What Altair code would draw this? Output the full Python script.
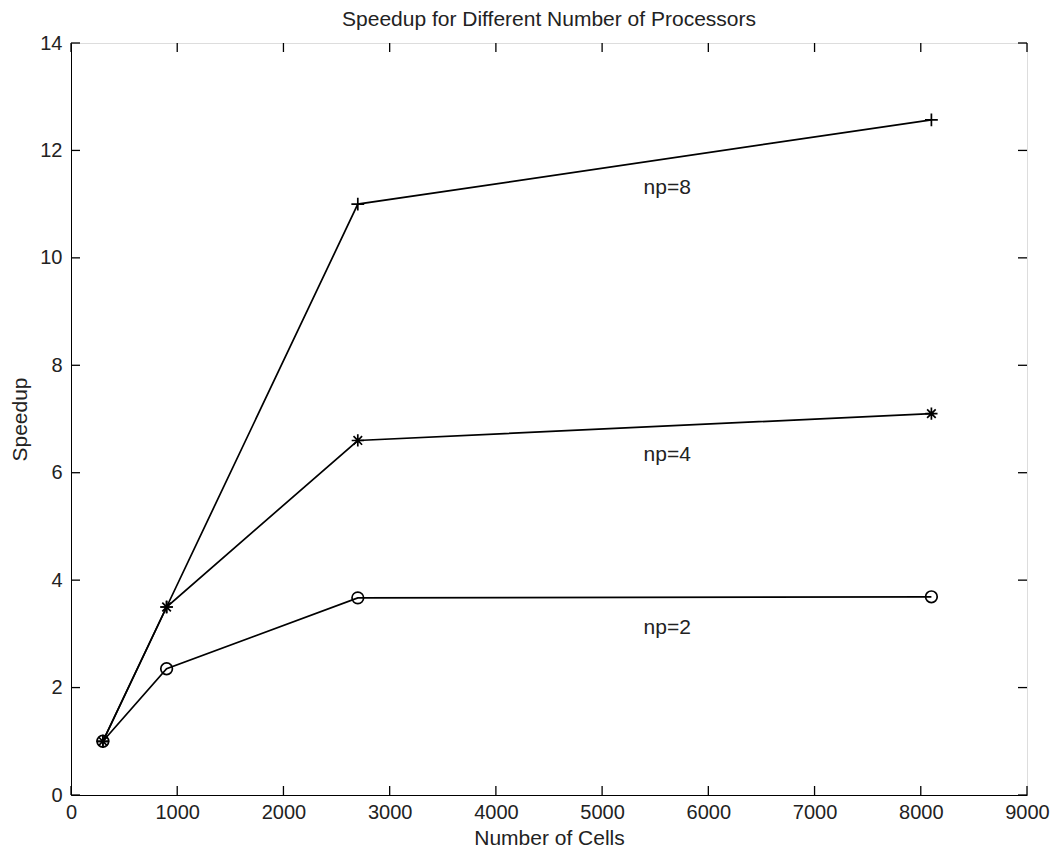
import altair as alt
import pandas as pd

# ---- data ----
cells = [300, 900, 2700, 8100]
speedup_np2 = [1.0, 2.35, 3.67, 3.69]
speedup_np4 = [1.0, 3.5, 6.6, 7.1]
speedup_np8 = [1.0, 3.5, 11.0, 12.57]
series_names = ["np=2", "np=4", "np=8"]

label_x = [5390, 5390, 5390]
label_y = [3.1, 6.33, 11.3]

x_ticks = [0, 1000, 2000, 3000, 4000, 5000, 6000, 7000, 8000, 9000]
y_ticks = [0, 2, 4, 6, 8, 10, 12, 14]

W, H = 956, 752
FONT = "Liberation Sans"
INK = "#222222"
TICK = 9

rows = []
for name, vals in zip(series_names, [speedup_np2, speedup_np4, speedup_np8]):
    for c, v in zip(cells, vals):
        rows.append({"series": name, "cells": c, "speedup": v})
df = pd.DataFrame(rows)

labels_df = pd.DataFrame({"text": series_names, "x": label_x, "y": label_y})
xt_df = pd.DataFrame({"t": x_ticks})
yt_df = pd.DataFrame({"t": y_ticks})

xscale = alt.Scale(domain=[0, 9000], nice=False, zero=False)
yscale = alt.Scale(domain=[0, 14], nice=False, zero=False)

x_axis = alt.Axis(values=x_ticks, grid=False, ticks=False, labelPadding=7,
                  labelFontSize=20, labelFont=FONT, labelColor=INK,
                  title="Number of Cells", titleFontSize=21, titleFont=FONT,
                  titleFontWeight="normal", titleColor=INK, titlePadding=5,
                  domainColor="black", labelFlush=False, format="d")
y_axis = alt.Axis(values=y_ticks, grid=False, ticks=False, labelPadding=9,
                  labelFontSize=20, labelFont=FONT, labelColor=INK,
                  title="Speedup", titleFontSize=21, titleFont=FONT,
                  titleFontWeight="normal", titleColor=INK, titlePadding=9,
                  domainColor="black", labelFlush=False, format="d")

lines = alt.Chart(df).mark_line(color="black", strokeWidth=1.7).encode(
    x=alt.X("cells:Q", scale=xscale, axis=x_axis),
    y=alt.Y("speedup:Q", scale=yscale, axis=y_axis),
    detail="series:N",
)

asterisk = "M-1,0L1,0M0,-1L0,1M-0.7,-0.7L0.7,0.7M-0.7,0.7L0.7,-0.7"
plus = "M-1,0L1,0M0,-1L0,1"

points = alt.Chart(df).mark_point(filled=False, color="black", strokeWidth=1.7, opacity=1).encode(
    x=alt.X("cells:Q", scale=xscale),
    y=alt.Y("speedup:Q", scale=yscale),
    shape=alt.Shape("series:N", scale=alt.Scale(domain=series_names, range=["circle", asterisk, plus]), legend=None),
    size=alt.Size("series:N", scale=alt.Scale(domain=series_names, range=[135, 165, 200]), legend=None),
)

texts = alt.Chart(labels_df).mark_text(align="left", baseline="middle", font=FONT,
                                       fontSize=21, color=INK).encode(
    x=alt.X("x:Q", scale=xscale),
    y=alt.Y("y:Q", scale=yscale),
    text="text:N",
)

bottom_ticks = alt.Chart(xt_df).mark_rule(color="black", strokeWidth=1.3).encode(
    x=alt.X("t:Q", scale=xscale), y=alt.value(H), y2=alt.value(H - TICK))
top_ticks = alt.Chart(xt_df).mark_rule(color="black", strokeWidth=1.3).encode(
    x=alt.X("t:Q", scale=xscale), y=alt.value(0), y2=alt.value(TICK))
left_ticks = alt.Chart(yt_df).mark_rule(color="black", strokeWidth=1.3).encode(
    y=alt.Y("t:Q", scale=yscale), x=alt.value(0), x2=alt.value(TICK))
right_ticks = alt.Chart(yt_df).mark_rule(color="black", strokeWidth=1.3).encode(
    y=alt.Y("t:Q", scale=yscale), x=alt.value(W), x2=alt.value(W - TICK))

chart = alt.layer(
    lines, points, texts, bottom_ticks, top_ticks, left_ticks, right_ticks
).properties(
    width=W, height=H,
    title=alt.TitleParams("Speedup for Different Number of Processors", fontSize=21,
                          font=FONT, fontWeight="normal", color=INK, anchor="middle", offset=3),
    autosize=alt.AutoSizeParams(type="none"),
    padding={"left": 63, "top": 35, "right": 28, "bottom": 58},
).configure_view(stroke="black", strokeWidth=1.3).configure(background="white")

chart.save("out.html", embed_options={"renderer": "svg", "actions": False})
